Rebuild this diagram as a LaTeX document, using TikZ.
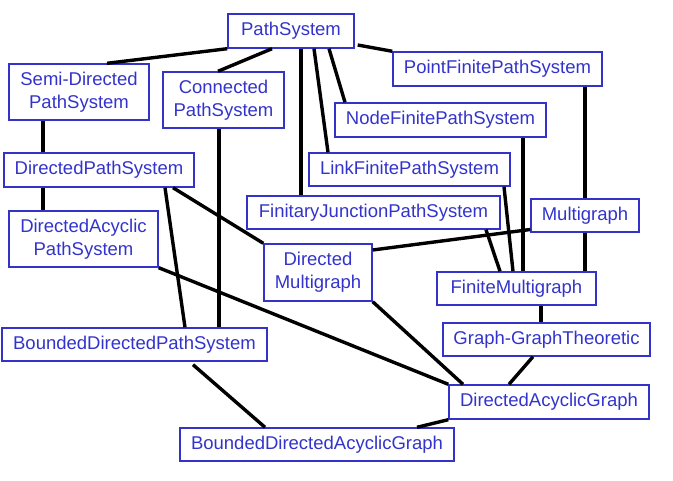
\documentclass[tikz,border=0pt]{standalone}
\usepackage{fontspec}
\setmainfont{Liberation Sans}
\definecolor{classblue}{RGB}{51,51,204}
\begin{document}
\begin{tikzpicture}[
    x=1pt, y=-1pt,
    cls/.style={rectangle, draw=classblue, line width=1.4pt, text=classblue, align=center, inner sep=0pt,
                font=\fontsize{18.5}{23}\selectfont},
    link/.style={line width=3.4pt, black}
]
    \useasboundingbox (0,0) rectangle (673,481);

    \node[cls, minimum width=126, minimum height=34] (ps) at (291,31) {PathSystem};
    \node[cls, minimum width=140, minimum height=56] (sdps) at (79,92) {Semi-Directed\\PathSystem};
    \node[cls, minimum width=121, minimum height=56] (cps) at (223.5,100) {Connected\\PathSystem};
    \node[cls, minimum width=190, minimum height=34] (dps) at (99,170) {DirectedPathSystem};
    \node[cls, minimum width=149, minimum height=56] (dacps) at (83.5,239) {DirectedAcyclic\\PathSystem};
    \node[cls, minimum width=209, minimum height=34] (pfps) at (497.5,69) {PointFinitePathSystem};
    \node[cls, minimum width=211, minimum height=34] (nfps) at (440.5,120) {NodeFinitePathSystem};
    \node[cls, minimum width=201, minimum height=33] (lfps) at (409.5,169.5) {LinkFinitePathSystem};
    \node[cls, minimum width=253, minimum height=33] (fjps) at (373.5,212.5) {FinitaryJunctionPathSystem};
    \node[cls, minimum width=108, minimum height=33] (mg) at (585,215.5) {Multigraph};
    \node[cls, minimum width=108, minimum height=57] (dmg) at (318,272.5) {Directed\\Multigraph};
    \node[cls, minimum width=159, minimum height=33] (fmg) at (516.5,288.5) {FiniteMultigraph};
    \node[cls, minimum width=207, minimum height=33] (ggt) at (546.5,339.5) {Graph-GraphTheoretic};
    \node[cls, minimum width=265, minimum height=33] (bdps) at (134.5,344.5) {BoundedDirectedPathSystem};
    \node[cls, minimum width=200, minimum height=34] (dag) at (549,402) {DirectedAcyclicGraph};
    \node[cls, minimum width=274, minimum height=33] (bdag) at (317,444.5) {BoundedDirectedAcyclicGraph};

    \draw[link] (ps.south west) -- ([xshift=28pt]sdps.north);
    \draw[link] ([xshift=-19pt]ps.south) -- ([xshift=-5.5pt]cps.north);
    \draw[link] ([xshift=10pt]ps.south) -- ([xshift=-72.5pt]fjps.north);
    \draw[link] ([xshift=23pt]ps.south) -- ([xshift=-81.5pt]lfps.north);
    \draw[link] ([xshift=38pt]ps.south) -- ([xshift=-95.5pt]nfps.north);
    \draw[link] ([xshift=3pt,yshift=-14pt]ps.east) -- (pfps.north west);
    \draw[link] ([xshift=-36pt]sdps.south) -- ([xshift=-56pt]dps.north);
    \draw[link] ([xshift=-4.5pt]cps.south) -- ([xshift=84.5pt]bdps.north);
    \draw[link] ([xshift=-56pt]dps.south) -- ([xshift=-40.5pt]dacps.north);
    \draw[link] ([xshift=66pt]dps.south) -- ([xshift=50.5pt]bdps.north);
    \draw[link] ([xshift=74pt]dps.south) -- (dmg.north west);
    \draw[link] (dacps.south east) -- (dag.north west);
    \draw[link] (dmg.south east) -- ([xshift=-86pt]dag.north);
    \draw[link] ([yshift=22.5pt]dmg.east) -- ([yshift=-14pt]mg.west);
    \draw[link] ([xshift=87.5pt]pfps.south) -- (mg.north);
    \draw[link] ([xshift=82.5pt]nfps.south) -- ([xshift=6.5pt]fmg.north);
    \draw[link] ([xshift=94.5pt]lfps.south) -- ([xshift=-3.5pt]fmg.north);
    \draw[link] ([xshift=112.5pt]fjps.south) -- ([xshift=-16.5pt]fmg.north);
    \draw[link] (mg.south) -- ([xshift=68.5pt]fmg.north);
    \draw[link] ([xshift=24.5pt]fmg.south) -- ([xshift=-5.5pt]ggt.north);
    \draw[link] ([xshift=-13.5pt]ggt.south) -- ([xshift=-40pt]dag.north);
    \draw[link] ([xshift=58.5pt,yshift=-3pt]bdps.south) -- ([xshift=-52pt]bdag.north);
    \draw[link] (dag.south west) -- ([xshift=100pt]bdag.north);
\end{tikzpicture}
\end{document}
